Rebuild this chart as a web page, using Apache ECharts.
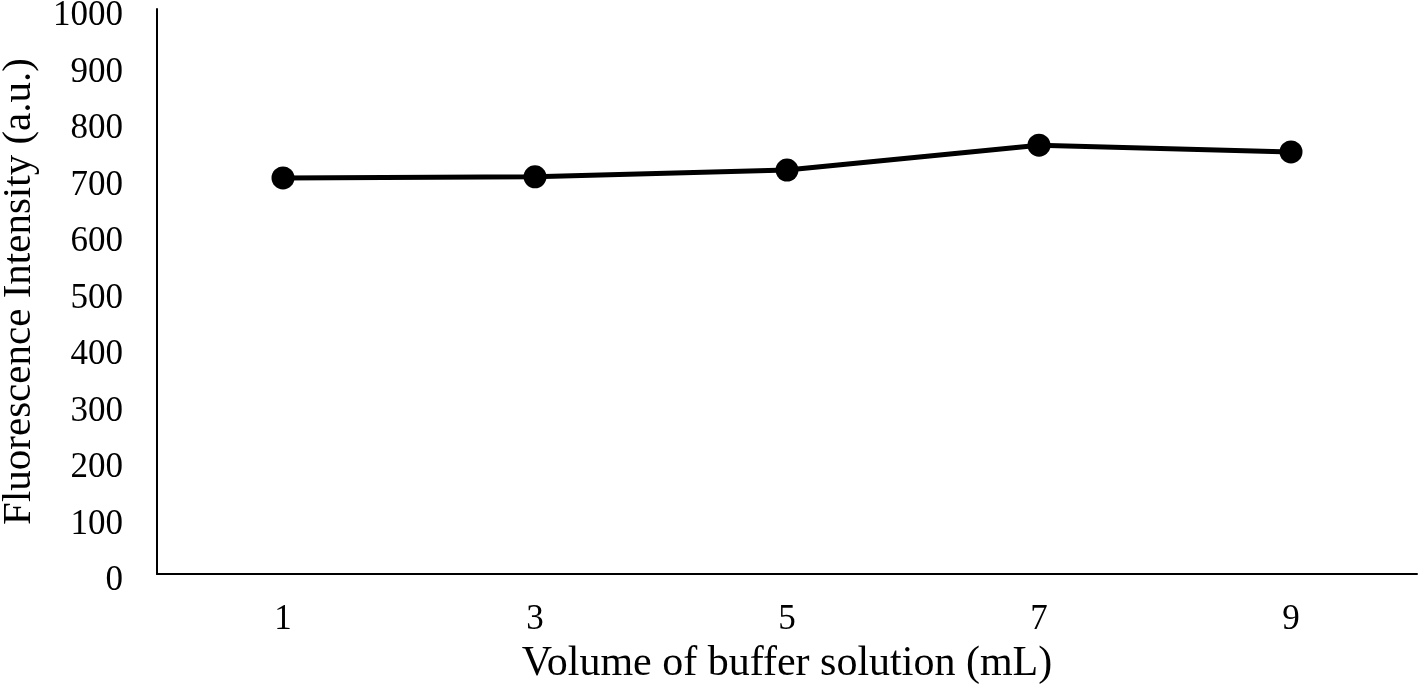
<!DOCTYPE html>
<html><head><meta charset="utf-8">
<script src="https://cdn.jsdelivr.net/npm/echarts@6/dist/echarts.min.js"></script>
<style>html,body{margin:0;padding:0;background:#fff}#c{width:1418px;height:690px}</style>
</head><body><div id="c"></div>
<script>
const categories = ['1', '3', '5', '7', '9'];
const intensity = [701, 703, 715, 759, 747];
const yTicks = [0, 1000, 100];
const xTitle = 'Volume of buffer solution (mL)';
const yTitle = 'Fluorescence Intensity (a.u.)';
const font = 'Liberation Serif';
const chart = echarts.init(document.getElementById('c'));
chart.setOption({
  animation: false,
  grid: {left: 157, right: 1, top: 9, bottom: 116, containLabel: false, outerBoundsMode: 'none'},
  xAxis: {
    type: 'category', data: categories, boundaryGap: true,
    axisLine: {lineStyle: {color: '#000', width: 2}},
    axisTick: {show: false},
    axisLabel: {color: '#000', fontFamily: font, fontSize: 35, margin: 28},
    name: xTitle, nameLocation: 'middle', nameGap: 69,
    nameTextStyle: {color: '#000', fontFamily: font, fontSize: 42}
  },
  yAxis: {
    type: 'value', min: yTicks[0], max: yTicks[1], interval: yTicks[2],
    axisLine: {show: true, lineStyle: {color: '#000', width: 2}},
    axisTick: {show: false},
    splitLine: {show: false},
    axisLabel: {
      color: '#000', fontFamily: font, fontSize: 35, margin: 34, verticalAlign: 'middle',
      formatter: v => '{t|' + v + '}',
      rich: {t: {color: '#000', fontFamily: font, fontSize: 35, padding: [14, 0, 0, 0]}}
    },
    name: yTitle, nameLocation: 'middle', nameGap: 117,
    nameTextStyle: {color: '#000', fontFamily: font, fontSize: 41}
  },
  series: [{
    type: 'line', data: intensity, symbol: 'circle', symbolSize: 23,
    lineStyle: {color: '#000', width: 5}, itemStyle: {color: '#000'}
  }]
});
</script></body></html>
